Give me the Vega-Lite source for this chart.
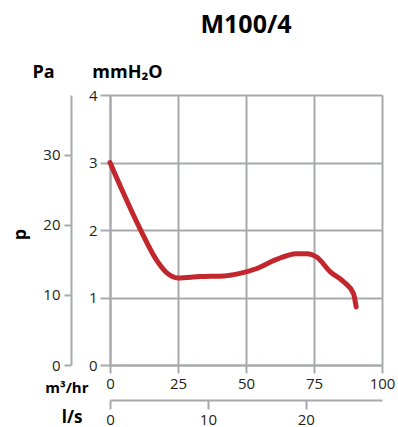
{
  "$schema": "https://vega.github.io/schema/vega-lite/v6.json",
  "width": 272,
  "height": 270,
  "autosize": {"type": "none"},
  "padding": {"left": 110, "top": 95, "right": 16, "bottom": 62},
  "title": {"text": "M100/4", "font": "Open Sans", "fontSize": 25, "fontWeight": "bold", "color": "#000000", "anchor": "middle", "frame": "group", "baseline": "alphabetic", "offset": 5},
  "config": {
    "view": {"stroke": null},
    "axis": {
      "labelFont": "Open Sans", "titleFont": "Open Sans", "labelFontSize": 15, "labelColor": "#231f20", "titleColor": "#000000",
      "domainColor": "#a7a9ac", "tickColor": "#a7a9ac", "gridColor": "#a7a9ac", "gridOpacity": 1,
      "domainWidth": 2, "tickWidth": 2, "gridWidth": 2, "titleFontWeight": "bold", "titleFontSize": 18, "labelFlush": false
    }
  },
  "layer": [
    {
      "data": {"values": [
        {"q": 0, "p": 3.0}, {"q": 5, "p": 2.54}, {"q": 11, "p": 2.02}, {"q": 17, "p": 1.56}, {"q": 21, "p": 1.36},
        {"q": 25, "p": 1.29}, {"q": 33, "p": 1.31}, {"q": 42, "p": 1.32}, {"q": 47, "p": 1.35}, {"q": 54, "p": 1.43},
        {"q": 61, "p": 1.56}, {"q": 68.5, "p": 1.65}, {"q": 72.5, "p": 1.65}, {"q": 76, "p": 1.6}, {"q": 81, "p": 1.38},
        {"q": 86, "p": 1.23}, {"q": 89.5, "p": 1.06}, {"q": 90.5, "p": 0.86}
      ]},
      "mark": {"type": "line", "color": "#c1272d", "strokeWidth": 5, "interpolate": "monotone", "strokeCap": "round"},
      "encoding": {
        "x": {"field": "q", "type": "quantitative", "scale": {"domain": [0, 100], "nice": false},
          "axis": {"orient": "bottom", "values": [0, 25, 50, 75, 100], "grid": true, "tickSize": 8, "labelPadding": 3,
            "title": "m³/hr", "titleAngle": 0, "titleAlign": "right", "titleBaseline": "middle", "titleX": -22, "titleY": 22, "titleFontSize": 15}},
        "y": {"field": "p", "type": "quantitative", "scale": {"domain": [0, 4], "nice": false},
          "axis": {"orient": "left", "values": [0, 1, 2, 3, 4], "grid": true, "tickSize": 10, "labelPadding": 3,
            "title": "mmH₂O", "titleAngle": 0, "titleAlign": "center", "titleBaseline": "alphabetic", "titleX": 17, "titleY": -18}}
      }
    },
    {
      "data": {"values": [{"ls": 0, "pa": 0}]},
      "mark": {"type": "point", "opacity": 0},
      "encoding": {
        "x": {"field": "ls", "type": "quantitative", "scale": {"domain": [0, 27.78], "nice": false},
          "axis": {"orient": "bottom", "offset": 35, "values": [0, 10, 20], "grid": false, "tickSize": 9, "labelPadding": 3,
            "title": "l/s", "titleAngle": 0, "titleAlign": "right", "titleBaseline": "middle", "titleX": -28, "titleY": 17, "titleFontSize": 17}},
        "y": {"field": "pa", "type": "quantitative", "scale": {"domain": [0, 38.5], "nice": false},
          "axis": {"orient": "left", "offset": 39, "values": [0, 10, 20, 30], "grid": false, "tickSize": 7, "labelPadding": 4,
            "title": "Pa", "titleAngle": 0, "titleAlign": "center", "titleBaseline": "alphabetic", "titleX": -28, "titleY": -18}}
      }
    },
    {
      "data": {"values": [{"ls": 0, "pa": 0}]},
      "mark": {"type": "point", "opacity": 0},
      "encoding": {
        "x": {"field": "ls", "type": "quantitative", "axis": null},
        "y": {"field": "pa", "type": "quantitative",
          "axis": {"orient": "left", "offset": 39, "domain": false, "ticks": false, "labels": false, "grid": false,
            "title": "p", "titleAngle": 270, "titleAlign": "center", "titleBaseline": "middle", "titleX": -51, "titleY": 139, "titleFontSize": 18}}
      }
    }
  ],
  "resolve": {"scale": {"x": "independent", "y": "independent"}}
}
